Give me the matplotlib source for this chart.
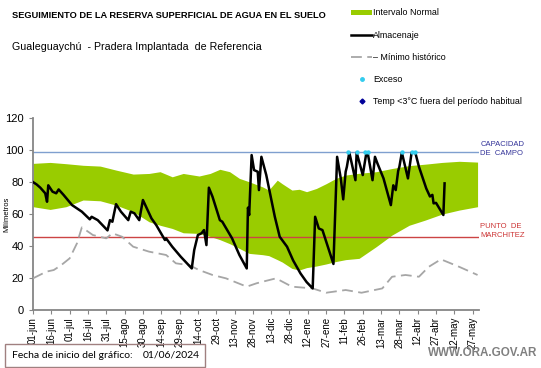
import matplotlib
matplotlib.use("Agg")
import matplotlib.pyplot as plt
from matplotlib.lines import Line2D
from matplotlib.patches import Patch, Rectangle

plt.rcParams['font.family'] = ['Liberation Sans', 'DejaVu Sans']

# days since 01/06/2024
tick_labels = ['01-jun', '16-jun', '01-jul', '16-jul', '31-jul', '15-ago', '30-ago',
               '14-sep', '29-sep', '14-oct', '29-oct', '13-nov', '28-nov', '13-dic',
               '28-dic', '12-ene', '27-ene', '11-feb', '26-feb', '13-mar', '28-mar',
               '12-abr', '27-abr', '12-may', '27-may']

band_days = [0, 14, 27, 41, 55, 68, 82, 95, 104, 114, 123, 136, 145, 153, 161, 169, 177,
             188, 193, 200, 204, 212, 218, 224, 232, 240, 248, 256, 267, 281, 294, 308,
             321, 335, 349, 364]
band_top = [91.7, 92.3, 91.5, 90.5, 90, 87.5, 85, 85.4, 86.5, 83.3, 85.4, 83.8, 85.4,
            88, 86.5, 82.3, 80.2, 77, 75, 81.2, 79, 75, 75.5, 74, 76, 79, 82.3, 84.4,
            85.5, 86.5, 88.5, 90.3, 91.2, 92.3, 93, 92.5]
band_bot = [64.6, 62.9, 64.6, 68.8, 68.3, 65.6, 61.5, 55.2, 53, 51, 48.3, 47.9, 46, 44,
            41.5, 38.5, 35.4, 34.6, 34, 31.5, 30, 26, 25, 26.5, 27.5, 28.8, 30.3, 31.5,
            32.3, 39.6, 46.9, 53, 56.2, 60, 62.5, 64.6]

min_days = [0, 11, 17, 23, 30, 36, 40, 49, 60, 65, 73, 82, 95, 109, 117, 128, 136, 147,
            158, 175, 183, 188, 199, 212, 229, 240, 256, 269, 286, 294, 305, 316, 324,
            334, 349, 364]
min_hist = [19.8, 24, 25, 28, 32.3, 41.7, 51.7, 46.9, 44.8, 48, 45.8, 39.6, 36.5, 34.4,
            29.2, 28, 25, 21.9, 19.8, 14.6, 16.7, 17.7, 19.8, 14.6, 13.5, 10.8, 12.5,
            10.8, 13.5, 20.8, 21.9, 20.8, 27, 31.7, 27, 21.9]

alm_days = [0, 3, 6, 10, 11.5, 12.5, 16, 19, 21, 25, 32, 40, 46.5, 48, 53, 61, 63, 65,
            66, 68, 72, 78, 80, 83, 87, 90, 97, 101, 108, 109, 114, 121, 130, 132, 135,
            138, 140, 142, 144, 147, 153, 155, 163, 169, 175, 176, 177, 179, 181, 184,
            185, 187, 191, 198, 202, 208, 213, 219, 224, 229, 231, 234, 237, 246, 249,
            252, 254, 256, 257, 259, 264, 265, 270, 273, 274, 278, 280, 282, 287, 293,
            295, 297, 299, 300, 302, 307, 310, 313, 316, 322, 325, 327, 328, 330, 336, 337]
almacenaje = [80, 78.5, 76.5, 73, 67.7, 78, 74, 73, 75.4, 72, 65.6, 61.5, 56.7, 58.3,
              56.2, 49.8, 56.2, 55.2, 59, 66.2, 61.5, 56.2, 61.5, 60.5, 56.2, 68.8, 57.3,
              53, 43.8, 44.8, 39.6, 33.3, 26, 37.5, 46.9, 48, 50, 40.6, 76.5, 70.8,
              56.2, 55.2, 44.8, 34.4, 26, 64, 59.4, 96.9, 87.5, 86.5, 75, 95.8, 84.4,
              58.3, 45.8, 39.6, 31, 22.9, 17.5, 13.5, 58.3, 51, 50, 28.8, 95.8, 82.3,
              69.2, 86.5, 89.6, 98.5, 81.2, 98.5, 84.4, 98.5, 98.5, 81.2, 95.8, 91.7,
              82.3, 65.6, 78, 75, 87, 89.6, 98.5, 82.3, 98.5, 98.5, 89.6, 76, 71, 72,
              66.7, 67, 59.4, 79.2]

exceso_days = [258, 265, 272, 274, 302, 310, 313]
exceso = [99, 99, 99, 99, 99, 99, 99]

capacidad = 98.6
marchitez = 45.8

fig = plt.figure(figsize=(5.41, 3.68), dpi=100)
ax = fig.add_axes([0.061, 0.1576, 0.824, 0.5214])

ax.fill_between(band_days, band_bot, band_top, color='#99CC00', lw=0, zorder=1)
ax.axhline(capacidad, color='#7F9FCF', lw=1.0, zorder=2)
ax.axhline(marchitez, color='#CC4444', lw=1.0, zorder=2)
ax.plot(min_days, min_hist, color='#A6A6A6', lw=1.3, dashes=(6, 3), zorder=3)
ax.plot(alm_days, almacenaje, color='black', lw=1.8, zorder=4)
ax.scatter(exceso_days, exceso, s=10, color='#33CCEE', zorder=5, lw=0)

ax.set_xlim(0, 365)
ax.set_ylim(0, 120)
ax.set_xticks(range(0, 361, 15))
ax.set_xticklabels(tick_labels, rotation=90, fontsize=7)
ax.set_yticks(range(0, 121, 20))
ax.tick_params(axis='y', labelsize=8, length=3, color='#868686')
ax.tick_params(axis='x', length=3, color='#868686', pad=2)
for s in ['top', 'right']:
    ax.spines[s].set_visible(False)
for s in ['left', 'bottom']:
    ax.spines[s].set_color('#868686')
    ax.spines[s].set_linewidth(1.3)
ax.set_ylabel('Milímetros', fontsize=5.5)
ax.yaxis.set_label_coords(-0.05, 0.5)

fig.text(0.022, 0.957, 'SEGUIMIENTO DE LA RESERVA SUPERFICIAL DE AGUA EN EL SUELO',
         fontsize=6.7, fontweight='bold', va='center')
fig.text(0.022, 0.873, 'Gualeguaychú  - Pradera Implantada  de Referencia',
         fontsize=7.7, va='center')

fig.text(0.888, 0.595, 'CAPACIDAD\nDE  CAMPO', fontsize=5.5, color='#333399',
         va='center', linespacing=1.35)
fig.text(0.888, 0.372, 'PUNTO  DE\nMARCHITEZ', fontsize=5.5, color='#CC3333',
         va='center', linespacing=1.35)

handles = [
    Patch(facecolor='#99CC00', edgecolor='none'),
    Line2D([], [], color='black', lw=1.8),
    Line2D([], [], color='#A6A6A6', lw=1.3, dashes=(6, 3)),
    Line2D([], [], ls='none', marker='o', ms=2.5, color='#33CCEE'),
    Line2D([], [], ls='none', marker='D', ms=2.5, color='#000099'),
]
labels = ['Intervalo Normal', 'Almacenaje', '– Mínimo histórico', 'Exceso',
          'Temp <3°C fuera del período habitual']
fig.legend(handles, labels, loc='upper left', bbox_to_anchor=(0.649, 0.977),
           frameon=False, fontsize=6.4, labelspacing=1.47, handlelength=2.36,
           handleheight=0.6, handletextpad=0.15, borderaxespad=0, borderpad=0)

fig.patches.append(Rectangle((0.009, 0.004), 0.37, 0.062, transform=fig.transFigure,
                             fill=False, edgecolor='#A08080', lw=1.0))
fig.text(0.022, 0.035, 'Fecha de inicio del gráfico:', fontsize=7.5, va='center',
         family=['Lato', 'DejaVu Sans'])
fig.text(0.264, 0.035, '01/06/2024', fontsize=7.5, va='center',
         family=['Lato', 'DejaVu Sans'])
fig.text(0.993, 0.04, 'WWW.ORA.GOV.AR', fontsize=8.4, color='#808080', ha='right',
         va='center', fontweight='bold')

fig.savefig('out.png', dpi=100)
